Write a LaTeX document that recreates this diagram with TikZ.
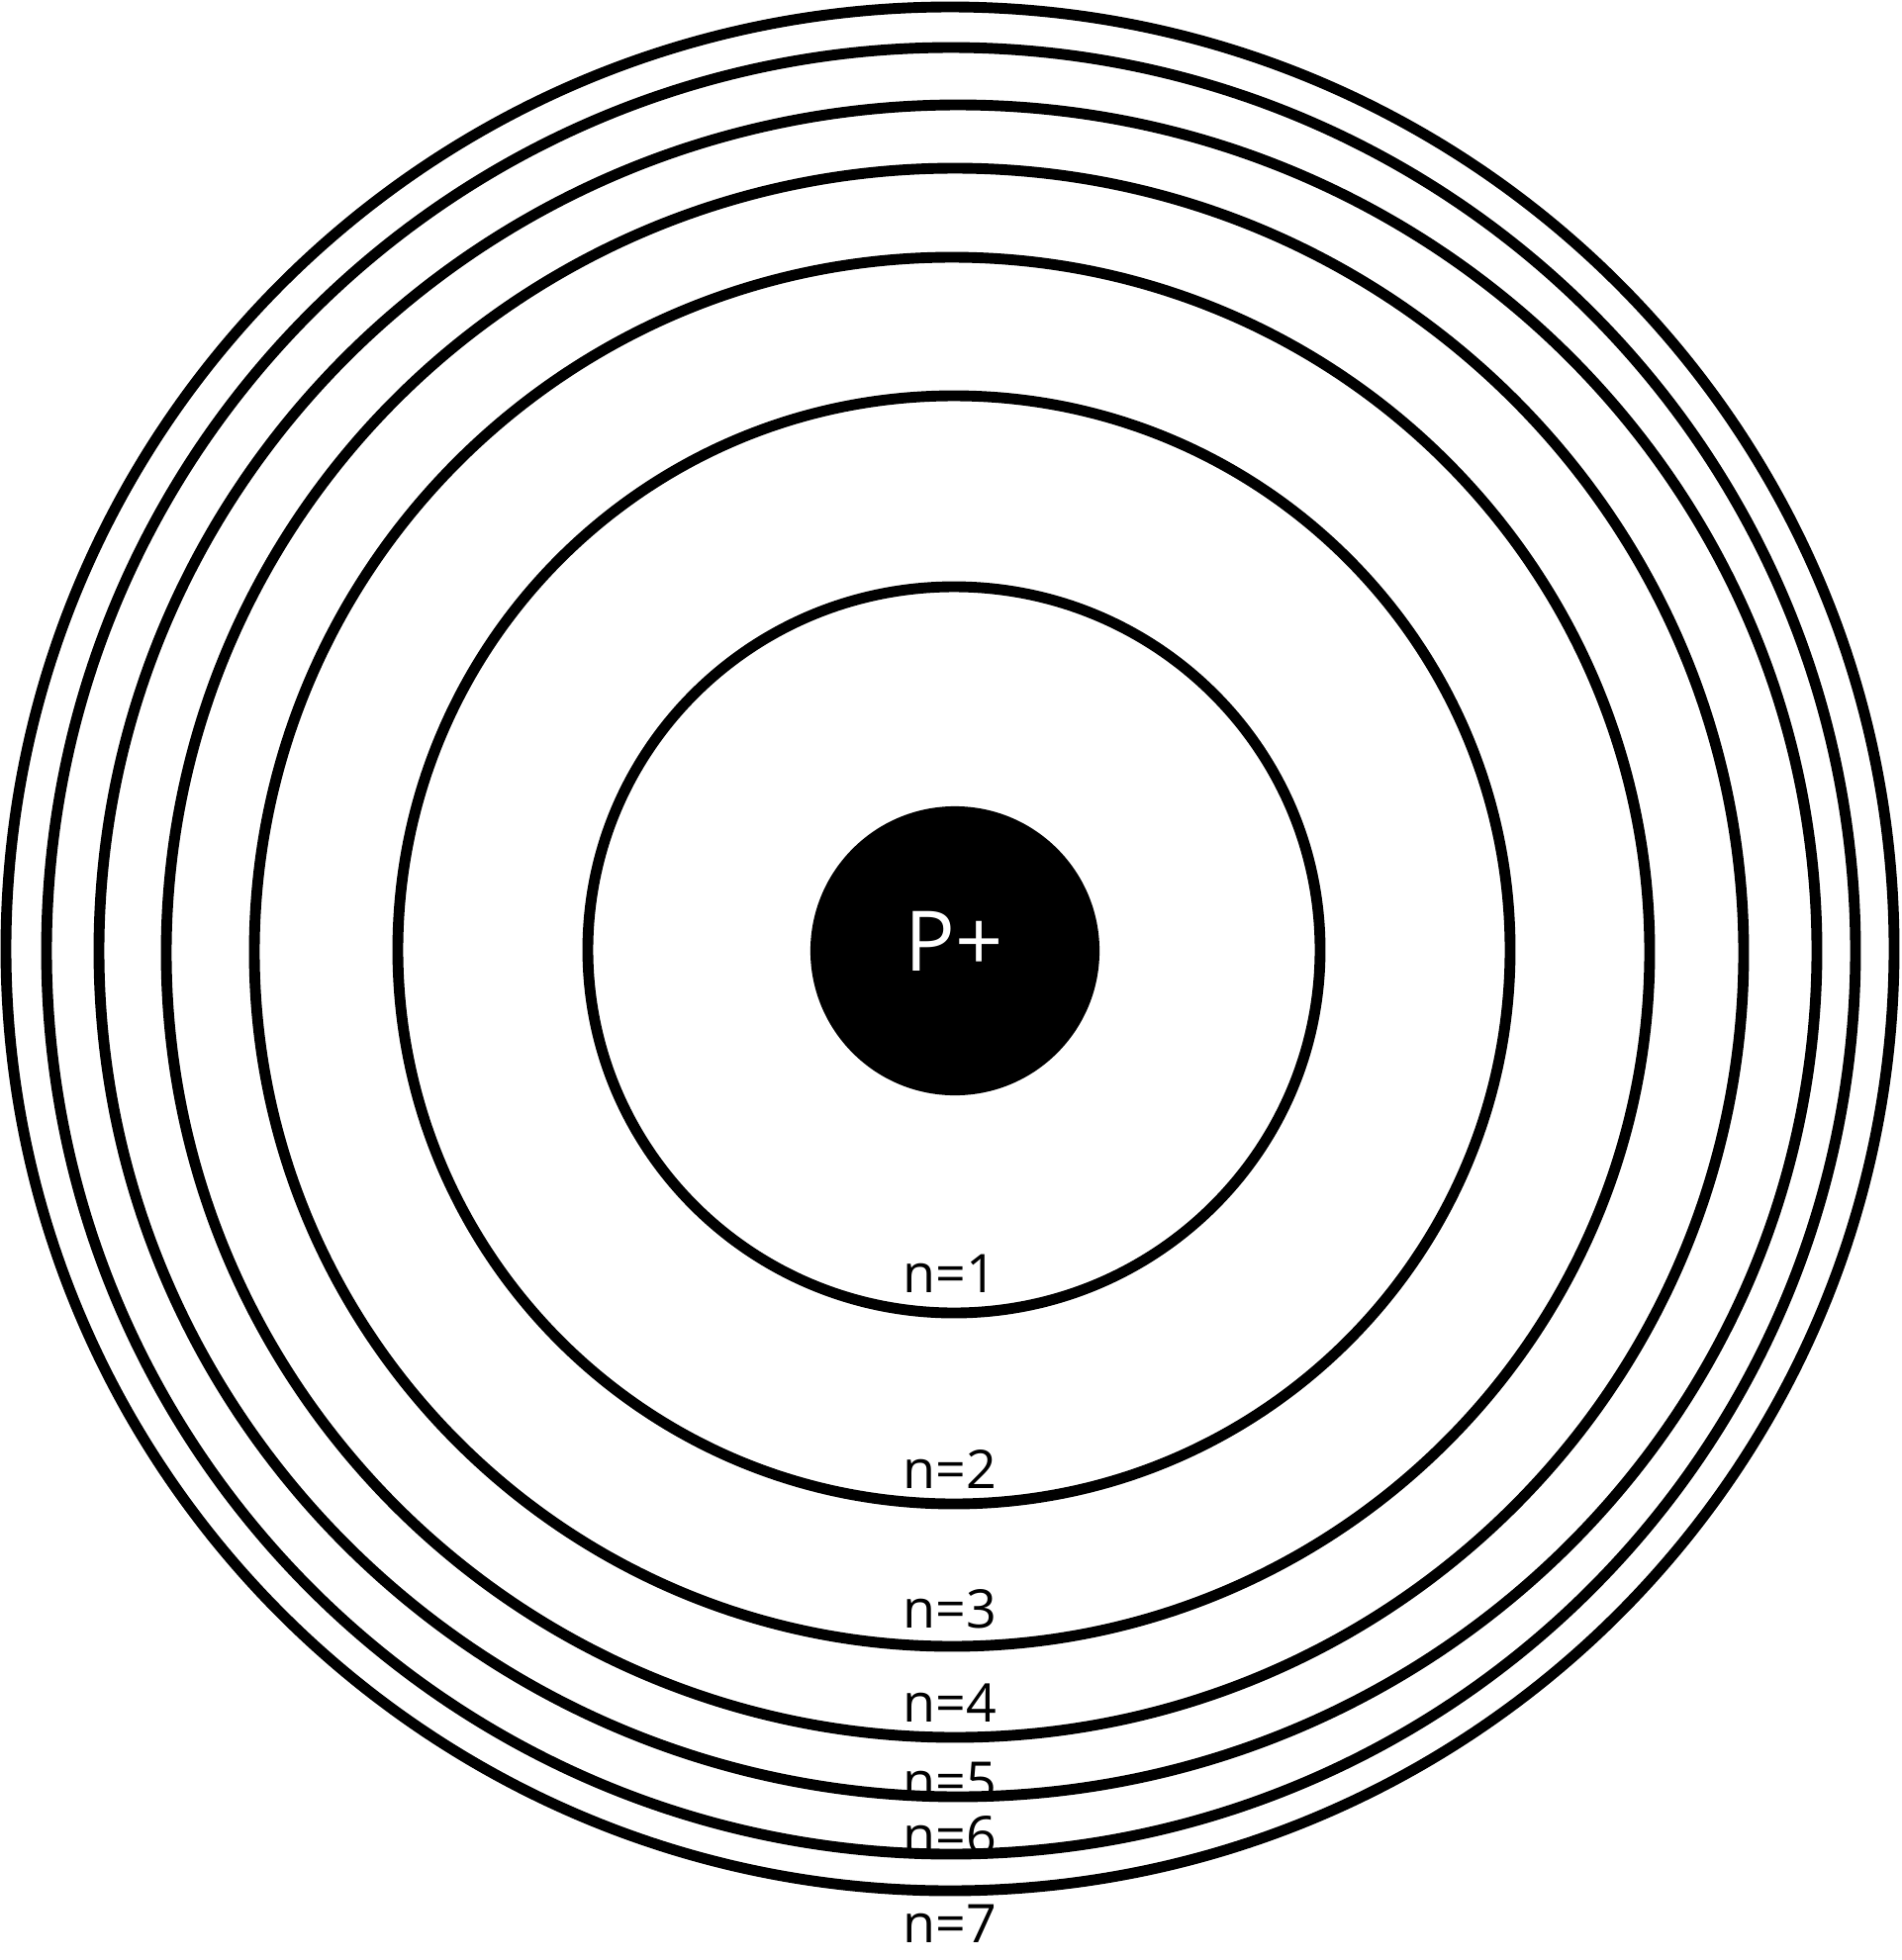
\documentclass[tikz,border=0pt]{standalone}
\usepackage{fontspec}
\setmainfont{Open Sans}
\usetikzlibrary{positioning}
\tikzset{
  orbit/.style   = {draw=black, line width=3.1pt},
  nucleus/.style = {circle, fill=black, minimum size=2.92cm, inner sep=0pt},
  charge/.style  = {text=white, inner sep=0pt, font=\fontsize{24}{28}\selectfont},
  lvl/.style     = {anchor=base west, inner sep=0pt, font=\fontsize{15.3}{18}\selectfont},
}

\begin{document}
\begin{tikzpicture}[x=0.01cm, y=-0.01cm]
  \useasboundingbox (0,0) rectangle (1922,1981);

  % level labels first, the rings run over them
  \foreach \k/\y in {1/1306,2/1504,3/1645,4/1740,5/1819,6/1874,7/1963}
    \node[lvl] (lvl\k) at (912,\y) {n=\k};

  % orbits, inner to outer
  \foreach \cx/\cy/\rx/\ry in {964/960/370/367, 964/960/562/560, 962/962/705/702,
                               965/963/797/793, 968/961/868/855, 961/961/914/913,
                               960/959/954/952}
    \draw[orbit] (\cx,\cy) ellipse [x radius={\rx*0.01cm}, y radius={\ry*0.01cm}];

  % nucleus
  \node[nucleus] (core) at (965,961) {};
  \node[charge] (pplus) at (964,951) {P+};
\end{tikzpicture}
\end{document}
